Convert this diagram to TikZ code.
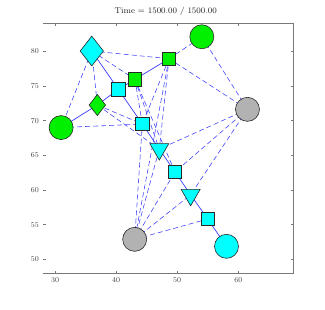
\documentclass[tikz,border=0pt]{standalone}
\usetikzlibrary{shapes.geometric,backgrounds}
\definecolor{axgray}{RGB}{120,120,120}
\definecolor{labgray}{RGB}{70,70,70}
\definecolor{edgeblue}{RGB}{60,60,255}
\definecolor{nodegray}{RGB}{178,178,178}
\definecolor{ncyan}{RGB}{0,255,255}
\definecolor{ngreen}{RGB}{0,240,0}
\definecolor{bordgray}{RGB}{40,40,40}
\tikzset{
  circ/.style={circle, draw=bordgray, line width=0.6pt, minimum size=24pt, inner sep=0pt},
  sq/.style={rectangle, draw=bordgray, line width=0.6pt, minimum size=13.3pt, inner sep=0pt},
  bigdia/.style={diamond, draw=bordgray, line width=0.6pt, minimum width=23.5pt, minimum height=30pt, inner sep=0pt},
  smalldia/.style={diamond, draw=bordgray, line width=0.6pt, minimum width=16.7pt, minimum height=21.3pt, inner sep=0pt},
  tri/.style={regular polygon, regular polygon sides=3, shape border rotate=180, draw=bordgray, line width=0.6pt, minimum size=22pt, inner sep=0pt},
  soledge/.style={edgeblue, line width=0.7pt},
  dashedge/.style={edgeblue, line width=0.55pt, dash pattern=on 5pt off 3pt},
  axline/.style={axgray, line width=0.6pt},
  ticklab/.style={labgray, font=\fontsize{7.5}{8}\selectfont, inner sep=0pt}
}
\begin{document}
\begin{tikzpicture}[x=1pt,y=1pt]
\useasboundingbox (0,0) rectangle (325,309);
% title
\node[font=\fontsize{8.4}{9}\selectfont, text=black!85] (title) at (165.7,298) {Time = 1500.00 / 1500.00};
% axes
\draw[axline] (43,35.5) -- (293.3,35.5) -- (293.3,285.5) -- (43,285.5);
\foreach \px/\lab in {55/30,116.1/40,177.2/50,238.3/60}{
  \draw[axline] (\px,35.5) -- ++(0,2.5);
  \draw[axline] (\px,285.5) -- ++(0,-2.5);
  \node[ticklab, anchor=north] at (\px,31.5) {\lab};
}
\foreach \py/\lab in {49.7/50,84.4/55,119.1/60,153.7/65,188.4/70,223.1/75,257.7/80}{
  \draw[axline] (43,\py) -- ++(2.5,0);
  \draw[axline] (293.3,\py) -- ++(-2.5,0);
  \node[ticklab, anchor=east] at (39,\py) {\lab};
}
\begin{scope}[x=6.11pt,y=6.933pt,shift={(-128.3pt,-296.95pt)}]
  \node[bigdia, fill=ncyan] (A) at (36.02,80.04) {};
  \node[circ, fill=ngreen] (B) at (54.03,82.1) {};
  \node[sq, fill=ngreen] (C) at (48.66,78.93) {};
  \node[sq, fill=ngreen] (D) at (43.09,75.96) {};
  \node[sq, fill=ncyan] (E) at (40.36,74.52) {};
  \node[smalldia, fill=ngreen] (F) at (36.93,72.25) {};
  \node[circ, fill=ngreen] (G) at (31.0,69.0) {};
  \node[sq, fill=ncyan] (H) at (44.29,69.51) {};
  \node[circ, fill=nodegray] (I) at (61.5,71.63) {};
  \node[tri, fill=ncyan] (J) at (47.07,65.9) {};
  \node[sq, fill=ncyan] (K) at (49.64,62.6) {};
  \node[tri, fill=ncyan] (L) at (52.2,59.3) {};
  \node[sq, fill=ncyan] (M) at (54.99,55.81) {};
  \node[circ, fill=ncyan] (N) at (58.07,51.87) {};
  \node[circ, fill=nodegray] (O) at (43.04,52.88) {};
\end{scope}
\begin{scope}[on background layer]
\fill[white] (0,0) rectangle (325,309);
% dashed edges
\foreach \a/\b in {C/B,A/G,A/F,A/C,A/D,G/H,F/H,F/J,D/H,D/J,D/K,C/H,C/J,C/O,C/I,B/I,I/J,I/K,I/L,O/H,O/J,O/K,O/L,O/M}{
  \draw[dashedge] (\a.center) -- (\b.center);
}
% solid edges
\foreach \a/\b in {G/F,F/E,E/D,D/C,A/E,E/H,H/J,J/K,K/L,L/M,M/N}{
  \draw[soledge] (\a.center) -- (\b.center);
}
\end{scope}
\end{tikzpicture}
\end{document}
